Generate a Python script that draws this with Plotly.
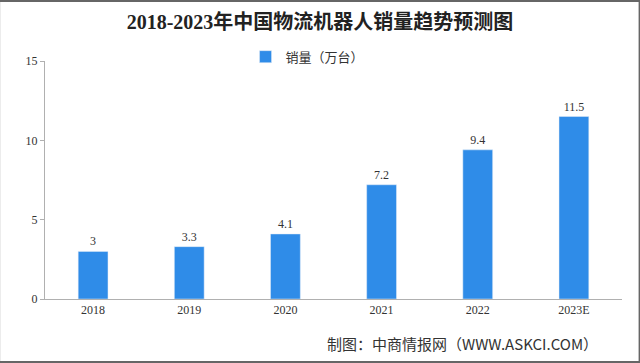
import plotly.graph_objects as go

categories = ["2018", "2019", "2020", "2021", "2022", "2023E"]
sales = [3, 3.3, 4.1, 7.2, 9.4, 11.5]
labels = ["3", "3.3", "4.1", "7.2", "9.4", "11.5"]
series_name = "销量（万台）"
title = "2018-2023年中国物流机器人销量趋势预测图"
source = "制图：中商情报网（WWW.ASKCI.COM）"

serif = "Liberation Serif, DejaVu Serif, Noto Sans CJK SC"
cjk = "Noto Sans CJK SC"

fig = go.Figure()
fig.add_trace(go.Bar(
    x=categories, y=sales, name=series_name,
    marker=dict(color="#2F8CE8"),
    width=0.31,
    text=labels, textposition="outside",
    textfont=dict(family=serif, size=12, color="#333333"),
    cliponaxis=False,
))

fig.update_layout(
    width=640, height=363,
    margin=dict(l=45, r=18, t=61, b=64),
    paper_bgcolor="white", plot_bgcolor="white",
    title=dict(text="<b>" + title + "</b>", x=0.5, xanchor="center", y=0.94, yanchor="middle",
               font=dict(family=serif, size=20, color="#222222")),
    showlegend=True,
    legend=dict(orientation="h", x=0.455, xanchor="center", y=0.955, yanchor="bottom",
                font=dict(family=cjk, size=13, color="#333333"), itemwidth=30),
    xaxis=dict(showline=True, linecolor="#b0b0b0", linewidth=1, ticks="",
               tickfont=dict(family=serif, size=12, color="#333333"), showgrid=False),
    yaxis=dict(range=[0, 15], dtick=5, showline=True, linecolor="#b0b0b0", linewidth=1,
               ticks="outside", ticklen=4, tickcolor="#b0b0b0", showgrid=False,
               tickfont=dict(family=serif, size=12, color="#333333")),
    bargap=0.69,
)

fig.add_annotation(text=source, xref="paper", yref="paper", x=0.962, xanchor="right",
                   y=-0.135, yanchor="top", showarrow=False,
                   font=dict(family=cjk, size=15, color="#333333"))

fig.add_shape(type="rect", xref="paper", yref="paper", x0=-0.0795, x1=1.0305, y0=-0.2645, y1=1.2525,
              line=dict(color="#666666", width=2), layer="above")

fig.write_html("out.html", config={"displayModeBar": False},
               post_script="document.body.style.margin='0';document.body.style.overflow='hidden';")
